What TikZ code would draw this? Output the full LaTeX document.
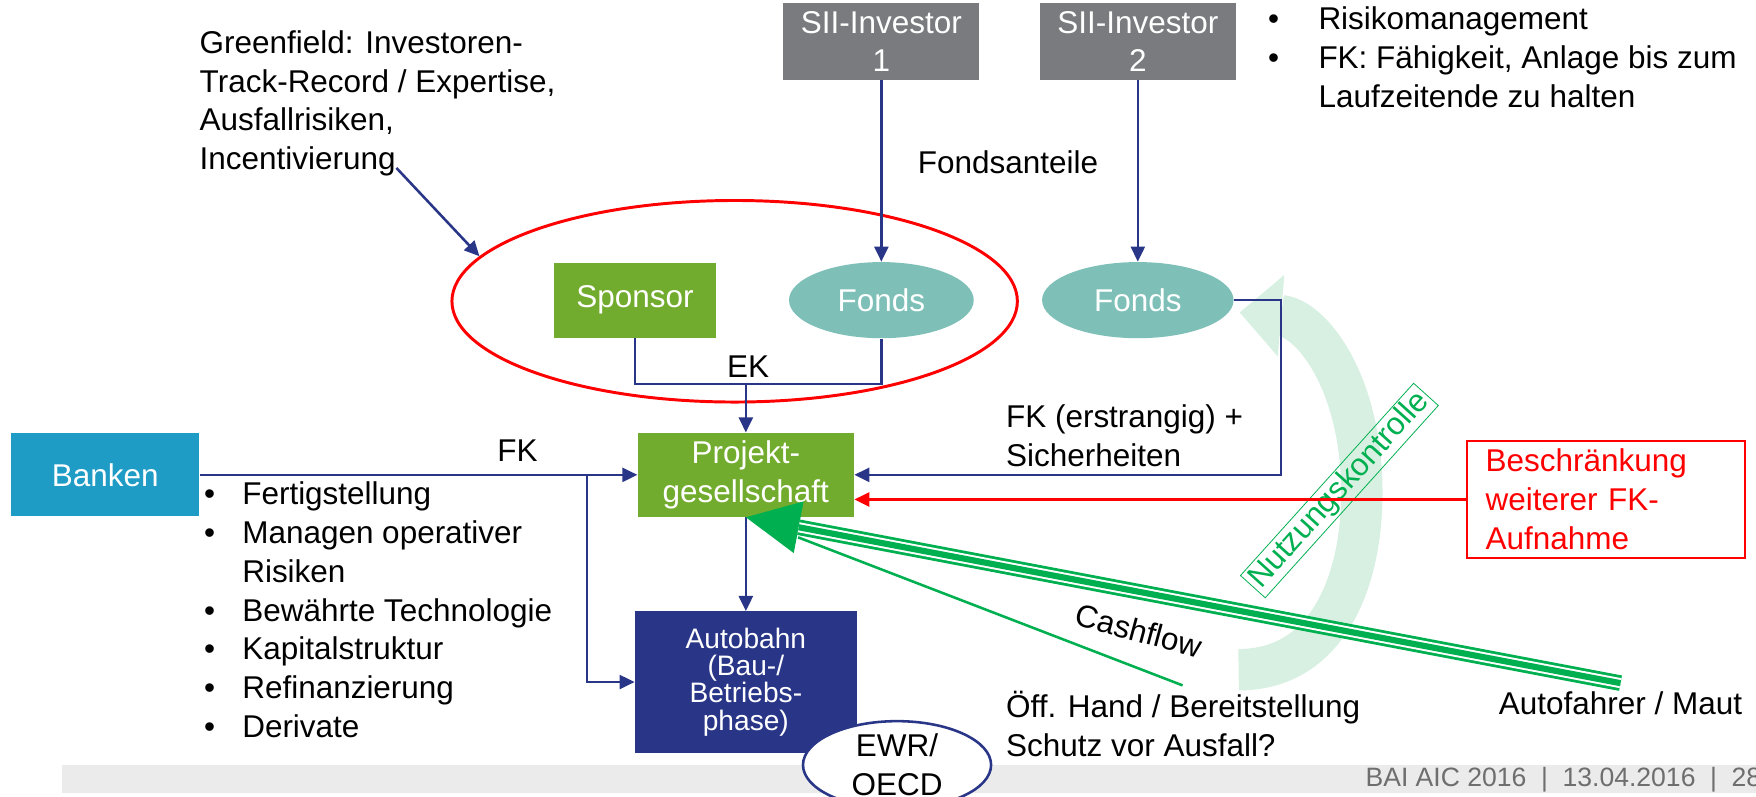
\documentclass[tikz,border=0pt]{standalone}
\usepackage{fontspec}
\setmainfont{Liberation Sans}
\usetikzlibrary{arrows.meta, shapes.geometric, calc}

\definecolor{pgreen}{RGB}{114,172,46}
\definecolor{fondsteal}{RGB}{126,192,184}
\definecolor{siigray}{RGB}{121,123,126}
\definecolor{bankblue}{RGB}{31,156,198}
\definecolor{navy}{RGB}{41,54,136}
\definecolor{cashgreen}{RGB}{0,176,80}
\definecolor{nutzgreen}{RGB}{216,240,226}
\definecolor{footgray}{RGB}{235,235,235}
\definecolor{foottext}{RGB}{110,110,110}

\newcommand{\blt}[1][0.68cm]{\makebox[#1][l]{\textbullet}}
\newcommand{\bltind}[1][0.68cm]{\hspace*{#1}}
\newcommand{\footsep}{\hspace{0.55em}|\hspace{0.55em}}

\begin{document}
\begin{tikzpicture}[
  x=0.02cm, y=-0.02cm,
  font=\fontsize{16}{19.7}\selectfont,
  box/.style={rectangle, inner sep=0pt, text=white, align=center},
  siibox/.style={box, fill=siigray, minimum width=3.5cm, minimum height=1.38cm},
  fonds/.style={ellipse, fill=fondsteal, text=white, inner sep=0pt,
                minimum width=3.3cm, minimum height=1.36cm},
  txt/.style={inner sep=0pt, anchor=north west, align=left},
  conn/.style={navy, line width=1.3pt},
  arrow/.style={conn, -{Triangle[length=0.27cm, width=0.25cm]}},
  redarrow/.style={red, line width=1.5pt, -{Triangle[length=0.27cm, width=0.25cm]}},
  cash/.style={cashgreen, line width=1.3pt}
]
\useasboundingbox (0,0) rectangle (1568,711);
\clip (0,0) rectangle (1568,711);

\fill[footgray] (55,683) rectangle (1568,708);
\node[anchor=west, inner sep=0pt, text=foottext, font=\fontsize{13.5}{15}\selectfont]
  (footer) at (1219,696) {BAI AIC 2016\footsep 13.04.2016\footsep 28};

\coordinate (nutzstart) at (1106,598);
\coordinate (nutzende)  at (1107,279);
\draw[nutzgreen, line width=0.74cm,
      -{Triangle[length=0.74cm, width=1.46cm, line width=0pt]}]
  (nutzstart) .. controls (1185,598) and (1216,520) .. (1216,440)
              .. controls (1216,340) and (1170,284) .. (nutzende);

\node[siibox] (sii1) at (787,37) {SII-Investor\\1};
\node[siibox] (sii2) at (1016,37) {SII-Investor\\2};
\node[fonds] (fondsL) at (787,268) {Fonds};
\node[fonds, minimum width=3.42cm] (fondsR) at (1016,268) {Fonds};
\node[box, fill=pgreen, minimum width=2.9cm, minimum height=1.34cm]
  (sponsor) at (567,268) {Sponsor};
\node[ellipse, draw=red, line width=1.5pt, minimum width=10.1cm,
      minimum height=3.6cm] (kreis) at (656,269) {};
\node[box, fill=pgreen, minimum width=3.86cm, minimum height=1.5cm]
  (projekt) at (666,424) {Projekt-\\gesellschaft};
\node[box, fill=navy, minimum width=3.96cm, minimum height=2.52cm,
      font=\fontsize{14.3}{13.8}\selectfont]
  (autobahn) at (666,609) {Autobahn\\(Bau-/\\Betriebs-\\phase)};
\node[ellipse, draw=navy, fill=white, line width=1.3pt, inner sep=0pt,
      minimum width=3.36cm, minimum height=1.46cm, align=center]
  (ewr) at (801,683) {EWR/\\OECD};
\node[box, fill=bankblue, minimum width=3.36cm, minimum height=1.48cm]
  (banken) at (94,424) {Banken};
\node[draw=red, text=red, line width=1pt, align=left, text width=4.3cm,
      inner xsep=0.34cm, minimum height=2.1cm]
  (beschr) at (1434,446) {Beschränkung\\weiterer FK-\\Aufnahme};

\node[txt] (greenfield) at (178,27)
  {Greenfield: Investoren-\\Track-Record / Expertise,\\Ausfallrisiken,\\Incentivierung};
\node[txt] (risiko) at (1132,6)
  {\blt[0.9cm]Risikomanagement\\\blt[0.9cm]FK: Fähigkeit, Anlage bis zum\\
   \bltind[0.9cm]Laufzeitende zu halten};
\node[txt] (kriterien) at (182,430)
  {\blt Fertigstellung\\\blt Managen operativer\\\bltind Risiken\\
   \blt Bewährte Technologie\\\blt Kapitalstruktur\\\blt Refinanzierung\\
   \blt Derivate};
\node (fondsanteile) at (900,145) {Fondsanteile};
\node (ek) at (668,327) {EK};
\node (fk) at (462,402) {FK};
\node[txt] (fkerst) at (898,361) {FK (erstrangig) +\\Sicherheiten};
\node[txt] (oeff) at (898,617) {Öff. Hand / Bereitstellung\\Schutz vor Ausfall?};
\node[txt] (autofahrer) at (1338,617) {Autofahrer / Maut};
\node[rotate=-15] (cashflow) at (1017,563) {Cashflow};
\node[draw=cashgreen, text=cashgreen, rotate=48, inner xsep=0.06cm,
      inner ysep=0.035cm] (nutzung) at (1196,438) {Nutzungskontrolle};

\draw[arrow] (sii1) -- (fondsL);
\draw[arrow] (sii2) -- (fondsR);
\coordinate (gfstart) at (354,150);
\draw[arrow] (gfstart) -- (kreis.170);
\coordinate (ekpunkt) at (666,343);
\draw[conn] (sponsor.south) |- (ekpunkt) -| (fondsL.south);
\draw[arrow] (ekpunkt) -- (projekt);
\draw[arrow] (banken) -- (projekt);
\coordinate (fkabzw) at (524,424);
\draw[arrow] (fkabzw) |- (autobahn.west);
\draw[arrow] (projekt) -- (autobahn);
\draw[arrow] (fondsR.east) -- ++(42,0) |- (projekt.east);
\draw[redarrow] (beschr.west) -- (beschr.west -| projekt.east);

\coordinate (hand) at (1056,612);
\coordinate (maut) at (1447,610);
\coordinate (kopfbasis) at ($(projekt.south)!0.96cm!(maut)$);
\draw[cash] (hand) -- ($(projekt.south)!1cm!(hand)$);
\draw[cashgreen, line width=0.28cm,
      -{Triangle[length=0.96cm, width=0.94cm, line width=0pt]}]
  (maut) -- (projekt.south);
\draw[white, line width=0.18cm] (maut) -- (kopfbasis);
\draw[cashgreen, line width=0.11cm] (maut) -- (kopfbasis);
\end{tikzpicture}
\end{document}
